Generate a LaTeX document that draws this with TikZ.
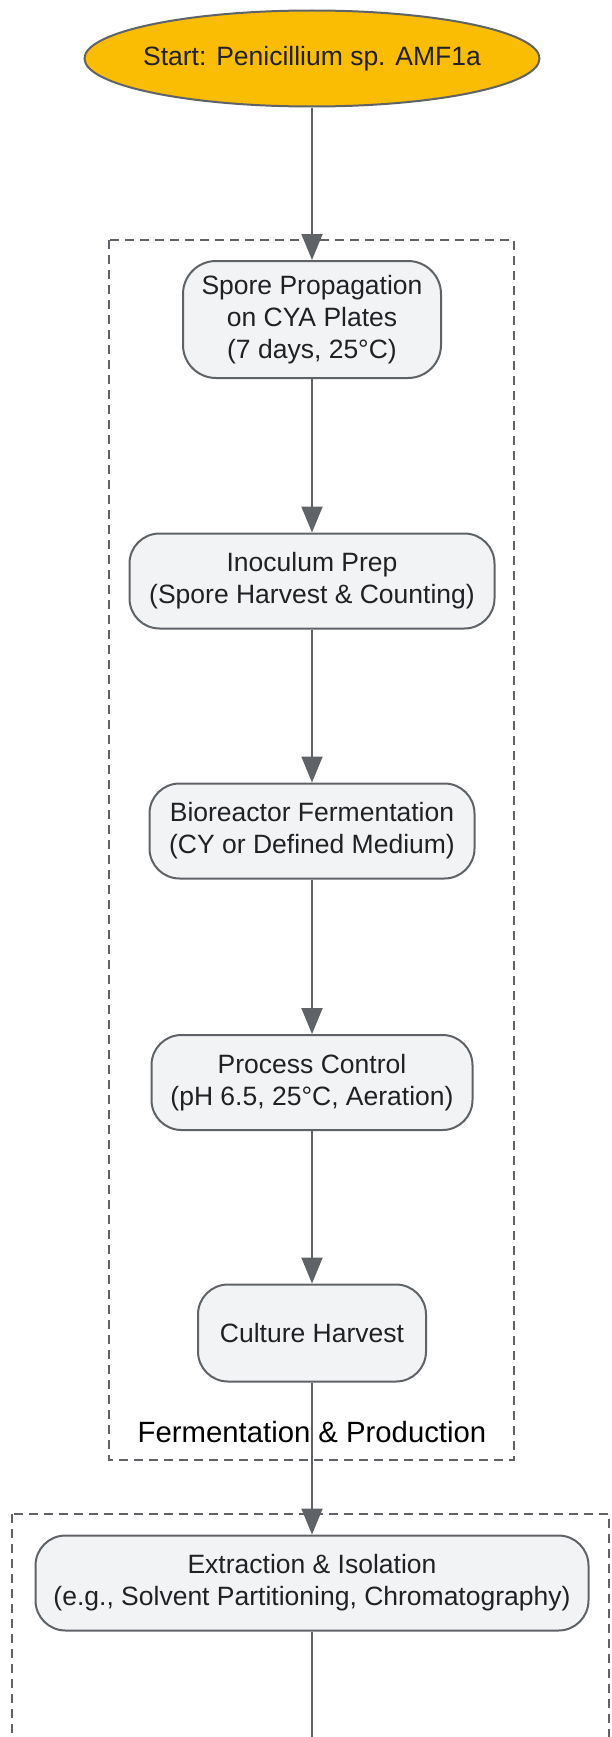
\documentclass[tikz,border=0pt]{standalone}
\usepackage{fontspec}
\setmainfont{Liberation Sans}
\usetikzlibrary{shapes.geometric,arrows.meta}
\definecolor{linegray}{HTML}{5F6368}
\definecolor{boxfill}{HTML}{F1F3F4}
\definecolor{startfill}{HTML}{FBBC04}
\definecolor{inktext}{HTML}{202124}

\begin{document}
\begin{tikzpicture}[x=1pt,y=-1pt,
	proc/.style={draw=linegray,line width=2pt,fill=boxfill,rounded corners=30pt,
		text=inktext,align=center,inner sep=0pt,minimum height=95pt,
		font=\fontsize{26.5}{32}\selectfont},
	flow/.style={draw=linegray,line width=2pt,-{Triangle[length=26pt,width=21pt]}},
	cluster/.style={draw=linegray,line width=2.2pt,dash pattern=on 9pt off 6pt}]
	\useasboundingbox (0,0) rectangle (611,1737) ;
	\clip (0,0) rectangle (611,1737) ;
	% groups
	\draw [cluster] (109,240) rectangle (514,1460) ;
	\draw [cluster] (12,1514) rectangle (609,1800) ;
	\node (fermlabel) at (312,1432) [font=\fontsize{29.3}{34}\selectfont] {Fermentation \& Production} ;
	% steps
	\node (start) at (312,58.5) [ellipse,draw=linegray,line width=2pt,fill=startfill,text=inktext,
		minimum width=452pt,minimum height=96pt,inner xsep=-8pt,inner ysep=0pt,
		font=\fontsize{26.5}{32}\selectfont]
		{Start: Penicillium sp. AMF1a} ;
	\node (spore) at (312,319.5) [proc,minimum width=258pt,minimum height=117pt,rounded corners=33pt]
		{Spore Propagation\\on CYA Plates\\(7 days, 25°C)} ;
	\node (inoc) at (312,581) [proc,minimum width=365pt] {Inoculum Prep\\(Spore Harvest \& Counting)} ;
	\node (ferm) at (312,831) [proc,minimum width=325pt] {Bioreactor Fermentation\\(CY or Defined Medium)} ;
	\node (ctrl) at (312,1082.5) [proc,minimum width=321pt] {Process Control\\(pH 6.5, 25°C, Aeration)} ;
	\node (harv) at (312,1333) [proc,minimum width=228pt,minimum height=97pt] {Culture Harvest} ;
	\node (extr) at (312,1583) [proc,minimum width=553pt] {Extraction \& Isolation\\(e.g., Solvent Partitioning, Chromatography)} ;
	\coordinate (below) at (312,1745) ;
	% connectors
	\draw [flow] (start) -- (spore) ;
	\draw [flow] (spore) -- (inoc) ;
	\draw [flow] (inoc) -- (ferm) ;
	\draw [flow] (ferm) -- (ctrl) ;
	\draw [flow] (ctrl) -- (harv) ;
	\draw [flow] (harv) -- (extr) ;
	\draw [draw=linegray,line width=2pt] (extr) -- (below) ;
\end{tikzpicture}
\end{document}
